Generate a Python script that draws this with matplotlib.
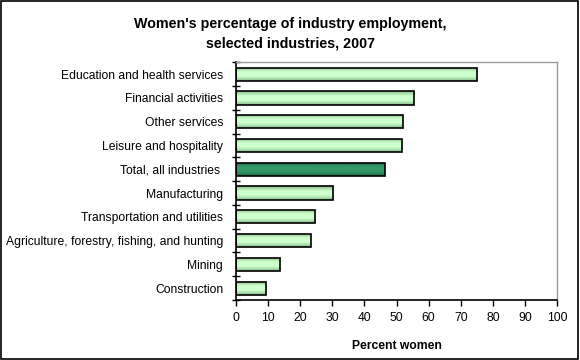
import numpy as np
import matplotlib.pyplot as plt
from matplotlib.colors import LinearSegmentedColormap

plt.rcParams['font.family'] = ['Liberation Sans', 'DejaVu Sans']

# Data (top to bottom as in the chart)
industries = ['Education and health services', 'Financial activities', 'Other services',
              'Leisure and hospitality', 'Total, all industries ', 'Manufacturing',
              'Transportation and utilities', 'Agriculture, forestry, fishing, and hunting',
              'Mining', 'Construction']
pct_women = [75.0, 55.4, 51.9, 51.6, 46.3, 30.2, 24.6, 23.3, 13.7, 9.3]
highlight = 'Total, all industries '

fig = plt.figure(figsize=(5.8, 3.6), dpi=100)
ax = fig.add_axes([0.4064, 0.1667, 0.9609 - 0.4064, 0.8269 - 0.1667])

light = LinearSegmentedColormap.from_list('light', ['#88b888', '#ccffcc', '#ccffcc', '#88b888'])
dark = LinearSegmentedColormap.from_list('dark', ['#1f6e48', '#339966', '#339966', '#1f6e48'])
grad = np.linspace(0, 1, 64).reshape(-1, 1)

y = np.arange(len(industries))[::-1]
bars = ax.barh(y, pct_women, height=0.55, color='none', edgecolor='black', linewidth=1.2, zorder=3)
for b, name in zip(bars, industries):
    x0, y0 = b.get_x(), b.get_y()
    w, h = b.get_width(), b.get_height()
    cmap = dark if name == highlight else light
    im = ax.imshow(grad, cmap=cmap, aspect='auto', extent=(x0, x0 + w, y0, y0 + h),
                   origin='lower', zorder=2)
    im.set_clip_path(b)

ax.set_xlim(0, 100)
ax.set_ylim(-0.5, len(industries) - 0.5)
ax.set_xticks(np.arange(0, 101, 10))
ax.set_yticks(y)
ax.set_yticklabels(industries)
ax.set_yticks(np.arange(-0.5, len(industries), 1), minor=True)
ax.tick_params(axis='y', which='major', length=0, pad=9, labelsize=8.75)
ax.tick_params(axis='y', which='minor', length=6, direction='inout', width=1)
ax.tick_params(axis='x', length=4, width=1, direction='out', labelsize=8.75, pad=5)

for s in ['left', 'bottom']:
    ax.spines[s].set_color('black')
    ax.spines[s].set_linewidth(1.2)
for s in ['top', 'right']:
    ax.spines[s].set_color('#999999')
    ax.spines[s].set_linewidth(1)

ax.set_xlabel('Percent women', fontsize=8.75, fontweight='bold', labelpad=11)
fig.text(0.5, 0.905, "Women's percentage of industry employment,\nselected industries, 2007",
         ha='center', va='center', fontsize=10.3, fontweight='bold', linespacing=1.5)

# outer border
fig.patches.append(plt.Rectangle((0.001, 0.002), 0.996, 0.996, transform=fig.transFigure,
                                 fill=False, edgecolor='black', linewidth=1.2))

fig.savefig('out.png', dpi=100)
